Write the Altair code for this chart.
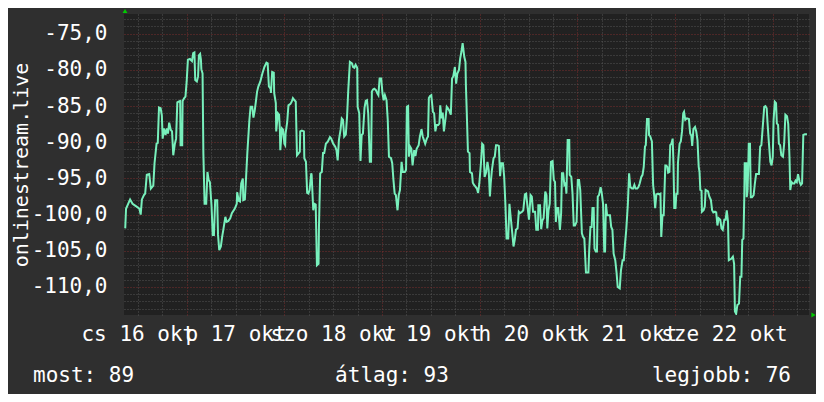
import altair as alt
import pandas as pd

# hours counted from 16 okt 00:00, signal values (dBm)
hours = [
    8.9, 9.1, 10.1, 10.7, 11.7, 12.4, 12.7, 13.0, 13.5, 13.8, 14.2, 14.8, 15.2, 15.8, 16.1, 16.6, 16.9, 17.2, 17.6, 17.9,
    18.1, 18.4, 18.8, 19.1, 19.4, 19.7, 20.1, 20.4, 20.7, 21.1, 21.4, 21.7, 22.0, 22.4, 22.5, 22.9, 23.0, 23.4, 23.7, 24.0,
    24.3, 24.8, 25.3, 25.6, 25.9, 26.1, 26.5, 26.8, 27.0, 27.3, 27.5, 27.6, 27.9, 28.1, 28.4, 28.8, 29.1, 29.4, 29.7, 30.1,
    30.4, 30.7, 31.0, 31.5, 31.7, 32.0, 32.4, 32.7, 33.0, 33.5, 33.8, 34.2, 34.7, 35.1, 35.8, 36.3, 36.4, 36.8, 37.1, 37.4,
    37.8, 37.9, 38.3, 38.6, 38.9, 39.4, 39.7, 40.1, 40.4, 40.7, 41.0, 41.3, 41.6, 42.1, 42.6, 43.1, 43.6, 43.9, 44.2, 44.6,
    44.7, 45.0, 45.4, 45.5, 45.9, 46.0, 46.4, 46.7, 46.9, 47.0, 47.4, 47.7, 48.0, 48.2, 48.3, 48.7, 49.0, 49.5, 49.8, 50.1,
    50.5, 50.8, 51.1, 51.4, 51.8, 51.9, 52.3, 52.8, 52.9, 53.3, 53.6, 53.9, 54.2, 54.6, 54.7, 55.1, 55.4, 55.7, 56.0, 56.4,
    56.5, 56.8, 57.2, 57.5, 57.8, 58.2, 58.7, 59.2, 59.5, 60.0, 60.5, 60.8, 61.1, 61.4, 61.8, 62.1, 62.4, 62.7, 63.1, 63.4,
    63.7, 64.1, 64.6, 64.9, 65.2, 65.5, 65.9, 66.0, 66.4, 66.7, 67.0, 67.3, 67.7, 68.0, 68.3, 68.6, 69.0, 69.3, 69.5, 69.8,
    70.1, 70.5, 70.8, 71.1, 71.4, 71.8, 72.1, 72.4, 72.7, 73.1, 73.4, 73.7, 74.2, 74.5, 74.8, 75.1, 75.4, 75.8, 76.1, 76.4,
    76.8, 77.1, 77.6, 77.9, 78.1, 78.4, 78.6, 78.9, 79.2, 79.5, 79.9, 80.2, 80.5, 81.0, 81.3, 81.7, 82.0, 82.3, 82.6, 83.0,
    83.3, 83.5, 83.8, 84.1, 84.5, 84.8, 85.1, 85.4, 85.8, 86.1, 86.3, 86.6, 86.9, 87.2, 87.6, 87.9, 88.2, 88.5, 88.9, 89.2,
    89.5, 89.9, 90.2, 90.5, 90.9, 91.2, 91.5, 91.8, 92.2, 92.5, 92.6, 92.8, 93.1, 93.5, 93.6, 94.1, 94.3, 94.6, 94.9, 95.3,
    95.6, 95.9, 96.3, 96.6, 96.9, 97.2, 97.6, 97.9, 98.2, 98.5, 98.7, 99.0, 99.4, 99.7, 100.0, 100.3, 100.7, 101.0, 101.3, 101.7,
    102.0, 102.3, 102.6, 103.0, 103.3, 103.6, 104.0, 104.3, 104.6, 104.9, 105.3, 105.6, 105.9, 106.4, 106.7, 107.1, 107.4, 107.7, 108.1, 108.5,
    108.8, 109.1, 109.6, 109.9, 110.3, 110.4, 110.8, 111.1, 111.4, 111.7, 112.1, 112.4, 112.6, 112.9, 113.2, 113.5, 113.9, 114.2, 114.5, 114.7,
    115.0, 115.3, 115.7, 116.0, 116.2, 116.5, 116.8, 117.1, 117.3, 117.6, 118.0, 118.1, 118.5, 118.8, 119.1, 119.4, 119.8, 120.1, 120.4, 120.7,
    121.1, 121.4, 121.7, 122.1, 122.7, 122.9, 123.2, 123.5, 123.7, 124.0, 124.2, 124.5, 124.8, 125.0, 125.3, 125.7, 126.0, 126.3, 126.6, 126.8,
    127.0, 127.3, 128.0, 128.3, 128.6, 128.9, 129.3, 129.6, 129.9, 130.4, 130.7, 131.1, 131.4, 131.7, 132.0, 132.4, 132.7, 133.0, 133.4, 133.7,
    134.0, 134.3, 134.7, 135.0, 135.3, 135.7, 136.0, 136.3, 136.6, 136.8, 137.1, 137.5, 137.6, 137.9, 138.3, 138.6, 138.9, 139.1, 139.4, 139.8,
    140.1, 140.4, 140.6, 140.9, 141.2, 141.6, 141.8, 142.1, 142.3, 142.6, 142.8, 143.1, 143.4, 143.6, 143.8, 144.1, 144.3, 144.6, 144.7, 145.1,
    145.4, 145.7, 146.0, 146.2, 146.5, 146.9, 147.4, 147.7, 148.0, 148.2, 148.5, 148.9, 149.2, 149.5, 149.8, 150.0, 150.2, 150.5, 150.6, 151.0,
    151.3, 151.5, 151.8, 152.1, 152.4, 152.8, 153.1, 153.4, 153.8, 154.1, 154.4, 154.7, 155.1, 155.4, 155.7, 156.1, 156.4, 156.7, 157.0, 157.2,
    157.5, 157.8, 158.2, 158.5, 158.7, 159.0, 159.3, 159.7, 160.0, 160.3, 160.5, 160.8, 161.0, 161.1, 161.5, 161.6, 161.8, 162.0, 162.1, 162.4,
    162.6, 162.9, 163.3, 163.6, 163.9, 164.2, 164.6, 164.9, 165.2, 165.6, 165.9, 166.2, 166.5, 166.7, 167.0, 167.4, 167.7, 168.0, 168.2, 168.5,
    168.8, 169.0, 169.3, 169.5, 169.8, 170.1, 170.5, 170.8, 171.1, 171.5, 171.8, 172.1, 172.3, 172.6, 172.9, 173.3, 173.6, 173.9, 174.2, 174.6,
    174.9, 175.2, 175.5, 175.9, 176.2, 176.4,
]
signal = [
    -101.9, -99.2, -97.9, -98.5, -98.9, -99.2, -100.0, -97.9, -97.3, -97.1, -94.5, -94.4, -96.4, -96.0, -92.9, -90.2, -90.1, -85.2, -85.3, -86.3,
    -89.5, -88.1, -89.0, -88.1, -88.8, -87.3, -88.3, -88.5, -91.8, -90.2, -89.5, -84.5, -84.4, -84.3, -90.4, -90.4, -84.3, -83.9, -83.7, -81.6,
    -78.6, -78.5, -78.8, -77.7, -77.6, -81.4, -81.6, -80.9, -78.0, -77.8, -78.6, -79.9, -80.5, -91.5, -98.5, -98.5, -94.1, -95.2, -95.5, -98.7,
    -102.8, -102.8, -98.0, -98.0, -102.8, -104.9, -104.4, -103.1, -102.1, -100.3, -101.0, -100.9, -100.5, -99.8, -99.2, -98.5, -96.9, -98.1, -98.2, -95.7,
    -95.0, -98.0, -97.9, -94.8, -91.5, -87.0, -85.1, -85.1, -86.6, -85.7, -84.4, -83.0, -82.3, -81.6, -80.5, -79.6, -79.0, -79.1, -82.3, -82.6,
    -83.2, -80.3, -80.4, -83.2, -84.6, -88.5, -86.0, -86.2, -88.3, -91.1, -88.1, -88.3, -90.2, -90.4, -88.8, -87.2, -84.9, -84.7, -84.4, -83.9,
    -84.2, -84.4, -91.8, -91.6, -91.3, -88.5, -88.4, -88.5, -92.2, -92.7, -97.0, -97.1, -96.6, -94.3, -94.5, -99.4, -98.5, -98.6, -107.0, -106.8,
    -101.7, -94.3, -94.1, -91.5, -91.5, -90.2, -89.9, -89.3, -89.5, -90.2, -90.6, -91.1, -92.5, -89.7, -88.3, -86.7, -86.9, -89.2, -88.9, -86.5,
    -82.8, -78.9, -79.1, -79.6, -79.7, -79.3, -79.7, -85.1, -86.0, -92.6, -89.0, -88.8, -85.2, -84.3, -84.2, -86.0, -92.7, -92.7, -83.0, -82.7,
    -82.6, -82.8, -83.2, -83.5, -81.2, -81.2, -83.2, -84.2, -83.5, -84.2, -86.9, -92.0, -92.2, -92.9, -95.2, -97.1, -97.3, -99.4, -97.3, -96.6,
    -92.7, -94.1, -94.1, -93.8, -85.1, -85.0, -92.0, -90.6, -90.9, -93.2, -91.1, -91.9, -90.9, -90.4, -89.2, -88.2, -89.2, -89.7, -90.2, -89.5,
    -89.2, -83.9, -83.6, -83.5, -85.8, -86.0, -88.5, -87.6, -87.6, -87.4, -84.9, -86.7, -85.9, -88.5, -86.7, -85.1, -85.3, -85.6, -86.2, -81.2,
    -80.9, -79.6, -81.9, -80.5, -80.0, -78.4, -77.5, -76.3, -78.2, -78.9, -82.1, -85.6, -91.3, -91.5, -94.1, -94.3, -95.6, -95.9, -96.1, -96.4,
    -97.0, -95.7, -92.9, -90.2, -90.4, -94.8, -94.1, -92.7, -93.8, -97.5, -95.7, -93.8, -92.2, -92.0, -90.4, -90.4, -90.5, -94.7, -92.9, -92.9,
    -94.7, -98.5, -103.3, -103.3, -98.5, -100.3, -102.6, -104.4, -103.5, -102.1, -101.9, -99.6, -99.8, -99.6, -99.4, -97.2, -97.1, -98.7, -100.7, -97.3,
    -97.5, -99.6, -99.6, -102.1, -102.1, -98.7, -98.7, -102.0, -100.8, -100.5, -96.8, -97.3, -101.9, -99.4, -98.5, -92.7, -92.6, -95.2, -95.5, -101.0,
    -99.1, -99.1, -102.1, -99.8, -94.3, -94.3, -95.9, -95.7, -97.1, -89.7, -89.7, -94.5, -94.8, -97.1, -101.5, -101.5, -101.0, -95.2, -95.2, -96.6,
    -102.6, -103.1, -103.3, -108.0, -108.0, -104.9, -101.7, -101.7, -99.1, -99.1, -104.7, -105.1, -105.1, -97.5, -97.3, -96.2, -97.1, -98.5, -105.1, -105.1,
    -98.5, -100.1, -100.1, -101.7, -102.1, -105.4, -106.3, -107.9, -110.0, -110.2, -107.7, -106.3, -106.3, -104.0, -102.1, -98.5, -94.3, -96.2, -96.4, -96.4,
    -95.9, -96.4, -96.4, -96.2, -95.7, -94.8, -94.5, -93.4, -90.6, -90.4, -86.8, -86.8, -89.0, -89.2, -89.9, -95.9, -97.5, -99.1, -97.2, -97.1,
    -97.2, -97.1, -103.1, -100.1, -100.1, -93.2, -93.2, -93.4, -94.2, -94.1, -90.4, -90.2, -89.5, -92.9, -99.1, -99.1, -97.1, -97.1, -92.9, -90.2,
    -89.9, -88.5, -86.0, -85.8, -86.9, -86.7, -86.8, -88.8, -89.1, -90.5, -88.2, -87.9, -88.5, -89.7, -93.4, -94.1, -96.6, -96.7, -99.6, -99.4,
    -98.9, -96.6, -96.7, -96.8, -97.5, -98.0, -99.4, -99.7, -99.6, -99.7, -101.5, -100.5, -100.7, -101.9, -102.1, -100.7, -100.7, -99.4, -101.0, -106.3,
    -106.2, -106.1, -105.8, -106.8, -113.4, -113.7, -112.5, -112.3, -108.6, -108.6, -103.5, -103.3, -97.6, -92.9, -92.9, -97.6, -96.6, -92.9, -90.2, -90.2,
    -97.6, -97.6, -97.3, -95.7, -94.4, -94.4, -94.4, -90.6, -90.4, -87.4, -85.1, -85.0, -85.3, -87.2, -89.7, -92.7, -93.2, -92.0, -86.9, -84.4,
    -84.6, -87.4, -87.6, -90.2, -90.4, -91.8, -92.0, -90.2, -86.2, -86.4, -87.5, -92.0, -96.6, -95.5, -95.7, -95.7, -95.3, -95.5, -94.4, -95.5,
    -95.9, -95.7, -89.0, -88.9, -88.9, -88.9,
]

day_labels = ["cs 16 okt", "p 17 okt", "szo 18 okt", "v 19 okt", "h 20 okt", "k 21 okt", "sze 22 okt", "cs 23 okt"]
footer = ["most: 89", "átlag: 93", "legjobb: 76"]
y_title = "onlinestream.live"

x_domain = [8.6, 176.9]
y_domain = [-113.87, -72.28]

FONT = "DejaVu Sans Mono"
FS = 21
WHITE = "#ffffff"
GRID_MINOR = "#555555"
GRID_MAJOR = "#7a2e2e"
LINE = "#78f0bc"

df = pd.DataFrame({"h": hours, "v": signal})

lab_arr = "[" + ",".join("'" + d + "'" for d in day_labels) + "]"
x_label_expr = f"datum.value % 24 === 12 ? {lab_arr}[floor(datum.value / 24)] : ''"

x_axis = alt.Axis(
    values=list(range(12, 177, 6)),
    labelExpr=x_label_expr,
    labelOverlap=False,
    labelFlush=False,
    labelFont=FONT,
    labelFontSize=FS,
    labelColor=WHITE,
    labelBaseline="alphabetic",
    labelPadding=25,
    ticks=False,
    tickSize=0,
    domain=False,
    grid=True,
    gridColor={"condition": {"test": "datum.value % 24 === 0", "value": GRID_MAJOR}, "value": GRID_MINOR},
    gridDash=[1, 2],
    gridWidth=1,
    title=None,
)

y_axis = alt.Axis(
    values=list(range(-113, -72)),
    labelExpr="datum.value % 5 === 0 ? datum.value + ',0' : ''",
    labelOverlap=False,
    labelFlush=False,
    labelFont=FONT,
    labelFontSize=FS,
    labelColor=WHITE,
    labelPadding=17,
    ticks=False,
    tickSize=0,
    domain=False,
    grid=True,
    gridColor={"condition": {"test": "datum.value % 5 === 0", "value": GRID_MAJOR}, "value": GRID_MINOR},
    gridDash=[1, 2],
    gridWidth=1,
    title=y_title,
    titleFont=FONT,
    titleFontSize=20,
    titleFontWeight="normal",
    titleColor=WHITE,
    titleAngle=270,
    titleAlign="center",
    titleBaseline="alphabetic",
    titleX=-97,
    titleY=150.5,
)

line = alt.Chart(df).mark_line(color=LINE, strokeWidth=2, clip=True).encode(
    x=alt.X("h:Q", scale=alt.Scale(domain=x_domain, nice=False, zero=False), axis=x_axis),
    y=alt.Y("v:Q", scale=alt.Scale(domain=y_domain, nice=False, zero=False), axis=y_axis),
)

one = alt.Data(values=[{}])
up_arrow = alt.Chart(one).mark_point(shape="triangle-up", filled=True, color="#00cc00", size=24, opacity=1).encode(
    x=alt.value(1), y=alt.value(-3)
)
right_arrow = alt.Chart(one).mark_point(shape="triangle-right", filled=True, color="#00cc00", size=24, opacity=1).encode(
    x=alt.value(689.5), y=alt.value(301)
)

def foot(text, xpos, align):
    return alt.Chart(pd.DataFrame({"t": [text]})).mark_text(
        align=align, baseline="alphabetic", font=FONT, fontSize=FS, color=WHITE
    ).encode(x=alt.value(xpos), y=alt.value(368), text="t:N")

chart = alt.layer(
    line,
    up_arrow,
    right_arrow,
    foot(footer[0], -91, "left"),
    foot(footer[1], 268, "center"),
    foot(footer[2], 667, "right"),
).properties(
    width=685,
    height=301,
    autosize=alt.AutoSizeParams(type="none"),
    padding={"left": 116, "top": 6, "right": 7, "bottom": 79},
    background="#2f2f2f",
).configure_view(fill="#212121", stroke=None)

chart.save("out.html", embed_options={"renderer": "svg", "actions": False})
